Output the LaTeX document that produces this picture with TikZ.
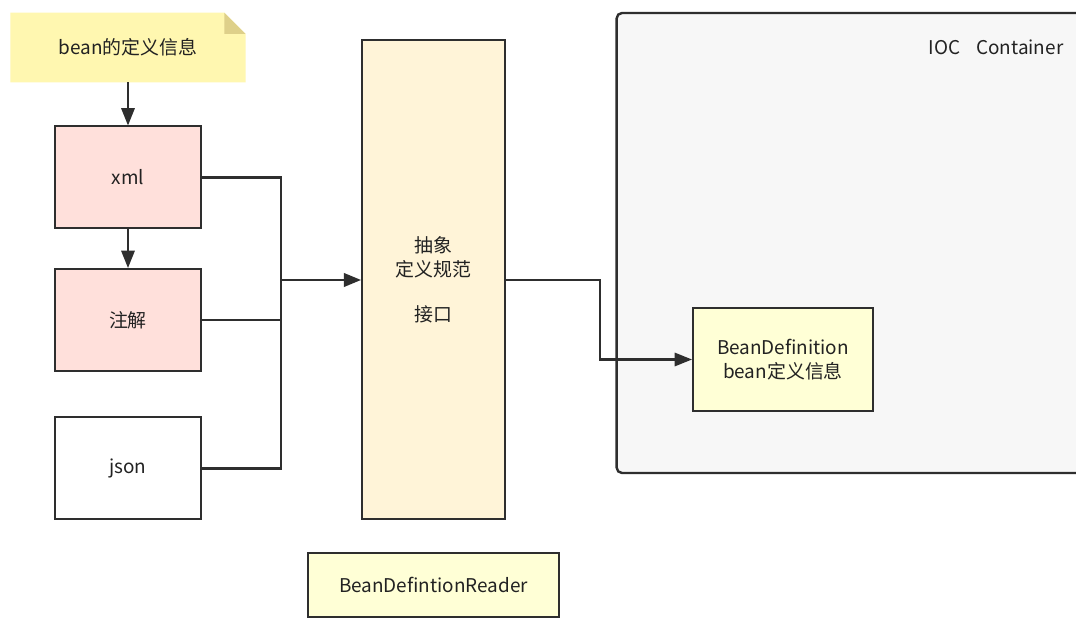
\documentclass[tikz,border=0pt]{standalone}
\usepackage{fontspec}
\setmainfont{Noto Sans CJK SC}
\usetikzlibrary{arrows.meta, backgrounds}
\definecolor{edge}{HTML}{2E2E2E}
\definecolor{textInk}{HTML}{222222}
\definecolor{noteFill}{HTML}{FFF7B0}
\definecolor{noteFold}{HTML}{DED08A}
\definecolor{formatFill}{HTML}{FFE0DB}
\definecolor{specFill}{HTML}{FFF4D8}
\definecolor{beanFill}{HTML}{FFFFD6}
\definecolor{iocFill}{HTML}{F7F7F7}

\begin{document}
\begin{tikzpicture}[
  x=0.75pt, y=-0.75pt,
  font=\fontsize{14.2}{18}\selectfont,
  every node/.style={align=center, text=textInk},
  box/.style={rectangle, draw=edge, line width=1.5pt, inner sep=0pt},
  format/.style={box, fill=formatFill, minimum width=109.5pt, minimum height=76.5pt},
  link/.style={draw=edge, line width=1.6pt},
  arrow/.style={link, -{Triangle[length=13pt, width=10pt]}},
  feed/.style={arrow, line width=2.2pt},
]
  \useasboundingbox (0,0) rectangle (1076,623);
  \clip (0,0) rectangle (1076,623);

  % container
  \node[box, fill=iocFill, rounded corners=4pt, line width=1.8pt, minimum width=362pt, minimum height=345pt] (ioc) at (858,243) {};
  \node (ioclabel) at (996,47) {IOC\hspace{12pt}Container};

  % sources
  \node[inner sep=0pt, minimum width=176pt, minimum height=52pt] (note) at (128,47.5) {bean的定义信息};
  \node[format] (xml) at (128,177.5) {xml};
  \node[format] (anno) at (128,320) {注解};
  \node[format, fill=white] (json) at (128,468.5) {json};

  % reader
  \node[box, fill=specFill, minimum width=107pt, minimum height=359pt] (spec) at (433.5,279.5) {抽象\\定义规范\\[16pt]接口};
  \node[box, fill=beanFill, minimum width=188pt, minimum height=48pt] (reader) at (433.5,585) {BeanDefintionReader};
  \node[box, fill=beanFill, minimum width=135pt, minimum height=77pt] (beandef) at (783,359.5) {BeanDefinition\\bean定义信息};

  \begin{scope}[on background layer]
    \fill[white] (0,0) rectangle (1076,623);
    \fill[noteFill] (note.south west) -- (note.north west) -- ([xshift=-16pt]note.north east)
      -- ([yshift=-16pt]note.north east) -- (note.south east) -- cycle;
    \fill[noteFold] ([xshift=-16pt]note.north east) -- ([yshift=-16pt]note.north east)
      -- ([xshift=-16pt, yshift=-16pt]note.north east) -- cycle;
  \end{scope}

  \coordinate (bus) at (281,280);
  \coordinate (bend) at (600,280);

  \draw[arrow] (note.south) -- (xml.north);
  \draw[arrow] (xml.south) -- (anno.north);
  \draw[link] (xml.east) -| (bus);
  \draw[link] (anno.east) -| (bus);
  \draw[link] (json.east) -| (bus);
  \draw[feed] (bus) -- (spec.west |- bus);
  \draw[arrow] (spec.east |- bend) -- (bend) |- (beandef.west);
\end{tikzpicture}
\end{document}
